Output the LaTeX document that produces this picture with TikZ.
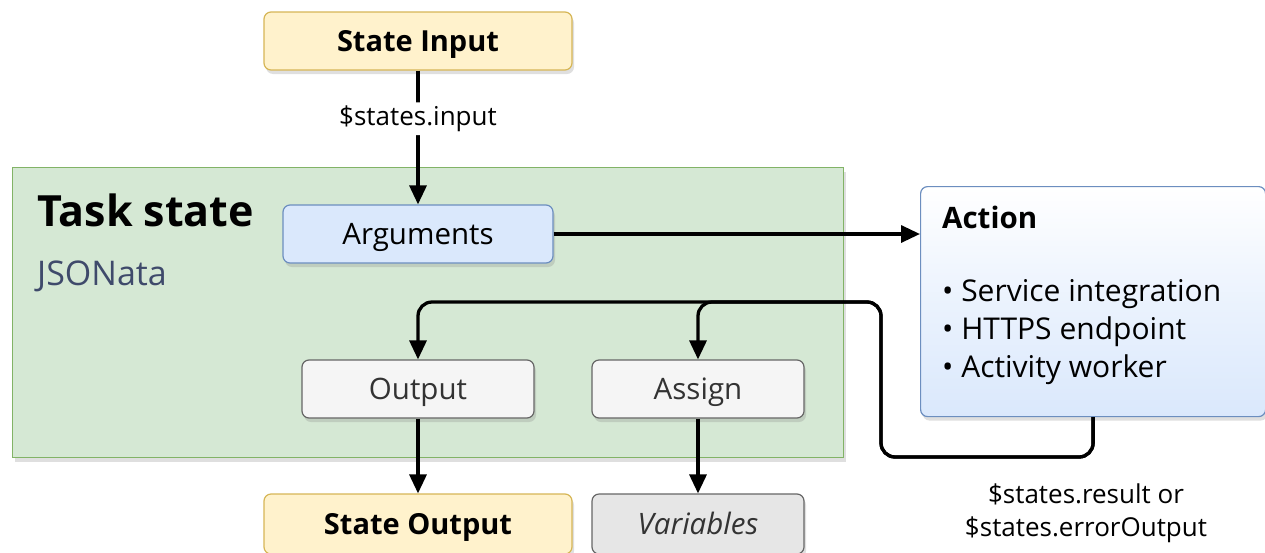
\documentclass[tikz,border=0pt]{standalone}
\usepackage{fontspec}
\setmainfont{Open Sans}
\usepackage{tikz}
\usetikzlibrary{arrows.meta,shadows}
\definecolor{iofill}{HTML}{FFF2CC}
\definecolor{ioline}{HTML}{D6B656}
\definecolor{taskfill}{HTML}{D5E8D4}
\definecolor{taskline}{HTML}{82B366}
\definecolor{argfill}{HTML}{DAE8FC}
\definecolor{argline}{HTML}{6C8EBF}
\definecolor{stepfill}{HTML}{F5F5F5}
\definecolor{stepline}{HTML}{666666}
\definecolor{steptext}{HTML}{333333}
\definecolor{varfill}{HTML}{E6E6E6}
\definecolor{subtext}{HTML}{3F4A6B}
\tikzset{
  boxshadow/.style={drop shadow={opacity=0.25, shadow xshift=2pt, shadow yshift=-4pt}},
  iobox/.style={draw=ioline, fill=iofill, rounded corners=7pt, line width=1.2pt,
                font=\fontsize{29}{32}\selectfont\bfseries, text height=21pt, text depth=0pt, boxshadow},
  argbox/.style={draw=argline, fill=argfill, rounded corners=7pt, line width=1.2pt,
                 font=\fontsize{29.5}{32}\selectfont, text height=21pt, text depth=0pt, boxshadow},
  stepbox/.style={draw=stepline, fill=stepfill, text=steptext, rounded corners=7pt, line width=1.2pt,
                  font=\fontsize{29.5}{32}\selectfont, text height=21pt, text depth=0pt, boxshadow},
  flow/.style={-{Triangle[length=19pt,width=17pt]}, line width=3.3pt, rounded corners=14pt},
  lbl/.style={font=\fontsize{26}{33}\selectfont, align=center},
  ttl/.style={anchor=base west, inner sep=0pt},
}
\begin{document}
\begin{tikzpicture}[x=1pt,y=-1pt]
  \useasboundingbox (0,0) rectangle (1265,552);

  % --- task state frame ---
  \node[draw=taskline, fill=taskfill, line width=1.2pt, minimum width=831pt, minimum height=290pt,
        anchor=north west, boxshadow] (task) at (12,167) {};
  \node[ttl, font=\fontsize{43}{48}\selectfont\bfseries] (tasktitle) at (37,226) {Task state};
  \node[ttl, text=subtext, font=\fontsize{34}{38}\selectfont] (tasklang) at (37,285) {JSONata};

  % --- inputs and steps ---
  \node[iobox, minimum width=308pt, minimum height=58pt] (stin) at (418,41) {State Input};
  \node[argbox, minimum width=270pt, minimum height=58pt] (args) at (418,234) {Arguments};
  \node[stepbox, minimum width=232pt, minimum height=58pt] (out) at (418,389) {Output};
  \node[stepbox, minimum width=212pt, minimum height=58pt] (asg) at (698,389) {Assign};

  % --- outputs ---
  \node[iobox, minimum width=308pt, minimum height=60pt] (stout) at (418,524) {State Output};
  \node[stepbox, fill=varfill, minimum width=212pt, minimum height=60pt,
        font=\fontsize{29.5}{32}\selectfont\itshape] (vars) at (698,524) {Variables};

  % --- action ---
  \node[draw=argline, top color=white, bottom color=argfill, middle color=argfill!55,
        rounded corners=7pt, line width=1.2pt, minimum width=345pt, minimum height=230pt,
        anchor=north west, boxshadow] (act) at (920,186) {};
  \node[ttl, font=\fontsize{29.5}{32}\selectfont\bfseries] (acttitle) at (942,228) {Action};
  \node[anchor=north west, align=left, inner sep=0pt,
        font=\fontsize{30}{38}\selectfont] (actlist) at (942,279)
        {\textbullet\ Service integration\\ \textbullet\ HTTPS endpoint\\ \textbullet\ Activity worker};

  % --- connectors ---
  \coordinate (loopbot) at (881,457);
  \coordinate (looptop) at (881,302);
  \draw[flow] (stin) -- node[lbl, fill=white, pos=0.36] (inlbl) {\$states.input} (args);
  \draw[flow] (args) -- (act.west |- args);
  \draw[flow] (act.south) |- (loopbot) -- (looptop) -| (out.north);
  \draw[flow] (act.south) |- (loopbot) -- (looptop) -| (asg.north);
  \draw[flow] (out) -- (stout);
  \draw[flow] (asg) -- (vars);

  \node[lbl] (reslbl) at (1086,513) {\$states.result or\\\$states.errorOutput};
\end{tikzpicture}
\end{document}
